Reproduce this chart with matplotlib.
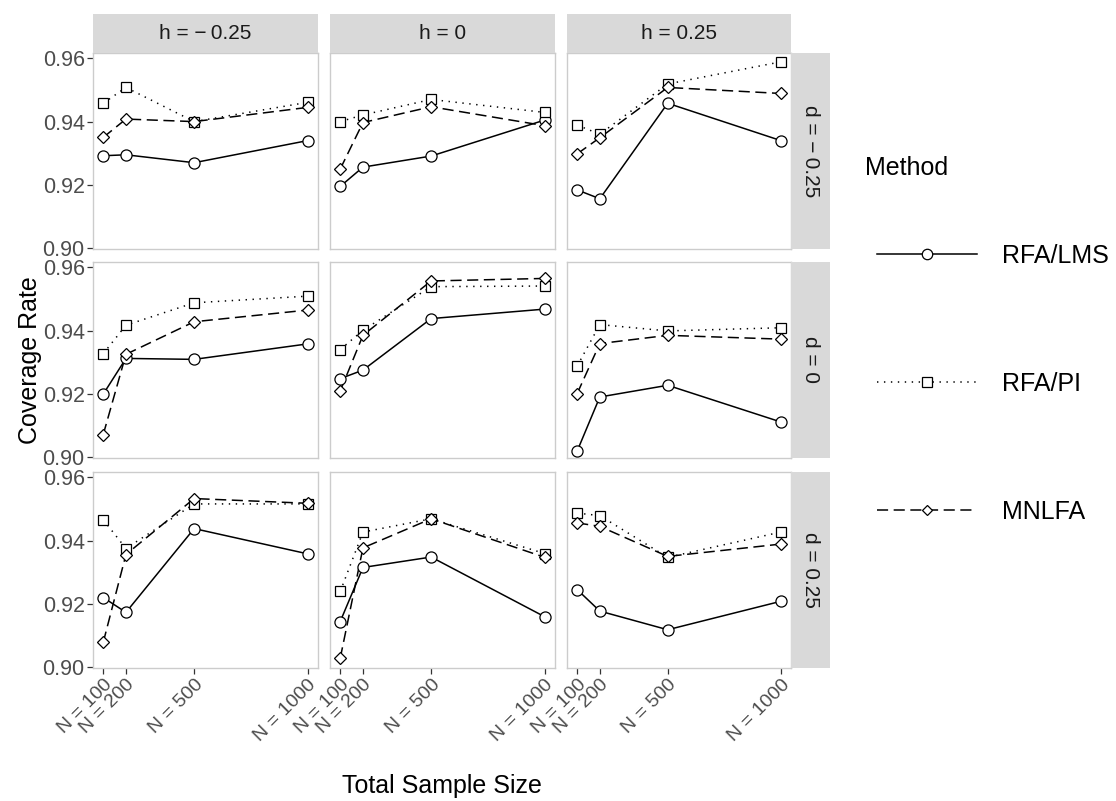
import matplotlib
matplotlib.use("Agg")
import matplotlib.pyplot as plt
from matplotlib.lines import Line2D

plt.rcParams["font.family"] = ["Liberation Sans", "DejaVu Sans"]
plt.rcParams["lines.scale_dashes"] = False

# --- data ---
sizes = [100, 200, 500, 1000]
size_labels = ["N = 100", "N = 200", "N = 500", "N = 1000"]
h_labels = ["h = \u2212\u20090.25", "h = 0", "h = 0.25"]
d_labels = ["d = \u2212\u20090.25", "d = 0", "d = 0.25"]
methods = ["RFA/LMS", "RFA/PI", "MNLFA"]

# rows = d, cols = h
lms = [
    [[0.9292, 0.9295, 0.9270, 0.9340], [0.9195, 0.9256, 0.9291, 0.9405], [0.9184, 0.9156, 0.9458, 0.9340]],
    [[0.9199, 0.9312, 0.9309, 0.9358], [0.9248, 0.9275, 0.9438, 0.9468], [0.9019, 0.9190, 0.9227, 0.9111]],
    [[0.9220, 0.9173, 0.9438, 0.9358], [0.9144, 0.9315, 0.9348, 0.9159], [0.9245, 0.9177, 0.9118, 0.9208]],
]
pi = [
    [[0.9458, 0.9508, 0.9400, 0.9461], [0.9400, 0.9421, 0.9470, 0.9429], [0.9389, 0.9360, 0.9519, 0.9589]],
    [[0.9327, 0.9417, 0.9488, 0.9509], [0.9340, 0.9401, 0.9539, 0.9541], [0.9288, 0.9419, 0.9399, 0.9409]],
    [[0.9466, 0.9375, 0.9516, 0.9516], [0.9239, 0.9427, 0.9469, 0.9359], [0.9487, 0.9479, 0.9347, 0.9427]],
]
mnlfa = [
    [[0.9350, 0.9408, 0.9400, 0.9445], [0.9250, 0.9397, 0.9447, 0.9387], [0.9298, 0.9349, 0.9508, 0.9489]],
    [[0.9071, 0.9325, 0.9428, 0.9465], [0.9209, 0.9385, 0.9557, 0.9565], [0.9201, 0.9359, 0.9385, 0.9373]],
    [[0.9078, 0.9356, 0.9533, 0.9518], [0.9028, 0.9377, 0.9469, 0.9347], [0.9456, 0.9445, 0.9350, 0.9389]],
]

styles = {
    "RFA/LMS": dict(ls="-", marker="o", ms=8),
    "RFA/PI": dict(ls=(0, (1, 4)), marker="s", ms=7),
    "MNLFA": dict(ls=(0, (8, 4)), marker="D", ms=6),
}
series = {"RFA/LMS": lms, "RFA/PI": pi, "MNLFA": mnlfa}

W, H = 1116, 801
fig = plt.figure(figsize=(W / 100, H / 100), dpi=100)

def box(x0, y0, x1, y1):
    return [x0 / W, 1 - y1 / H, (x1 - x0) / W, (y1 - y0) / H]

col_x = [(93, 318), (330, 555), (567, 791)]
row_y = [(53, 249), (262, 458), (472, 668)]
strip_col = "#D9D9D9"
tick_col = "#4D4D4D"

for i in range(3):
    for j in range(3):
        x0, x1 = col_x[j]
        y0, y1 = row_y[i]
        ax = fig.add_axes(box(x0, y0, x1, y1))
        for m in methods:
            ax.plot(sizes, series[m][i][j], color="black", lw=1.1, ls=styles[m]["ls"], zorder=2)
        for m in methods:
            ax.plot(sizes, series[m][i][j], ls="none", marker=styles[m]["marker"],
                    ms=styles[m]["ms"], mfc="white", mec="black", mew=0.9, zorder=3)
        ax.set_xlim(55, 1045)
        ax.set_ylim(0.8997, 0.9617)
        for s in ax.spines.values():
            s.set_color("#CCCCCC")
            s.set_linewidth(1.0)
        ax.set_yticks([0.90, 0.92, 0.94, 0.96])
        ax.set_xticks(sizes)
        ax.tick_params(length=4, width=0.9, color="#333333", labelcolor=tick_col, labelsize=15.5, pad=2)
        if j == 0:
            ax.set_yticklabels(["0.90", "0.92", "0.94", "0.96"])
        else:
            ax.tick_params(axis="y", left=False, labelleft=False)
        if i == 2:
            ax.set_xticklabels(size_labels, rotation=45, ha="right", va="top",
                               rotation_mode="anchor", fontsize=14)
        else:
            ax.tick_params(axis="x", bottom=False, labelbottom=False)

        if i == 0:
            sax = fig.add_axes(box(x0, 14, x1, 53))
            sax.set_facecolor(strip_col)
            sax.set_xticks([]); sax.set_yticks([])
            for s in sax.spines.values():
                s.set_visible(False)
            sax.text(0.5, 0.5, h_labels[j], ha="center", va="center", fontsize=15, color="#1A1A1A")
        if j == 2:
            sax = fig.add_axes(box(791, y0, 830, y1))
            sax.set_facecolor(strip_col)
            sax.set_xticks([]); sax.set_yticks([])
            for s in sax.spines.values():
                s.set_visible(False)
            sax.text(0.5, 0.5, d_labels[i], ha="center", va="center", rotation=270,
                     fontsize=15, color="#1A1A1A")

fig.text(30 / W, 1 - 360 / H, "Coverage Rate", rotation=90, ha="center", va="center", fontsize=18)
fig.text(442 / W, 1 - 786 / H, "Total Sample Size", ha="center", va="center", fontsize=18)

handles = [Line2D([], [], color="black", lw=1.1, ls=styles[m]["ls"], marker=styles[m]["marker"],
                  ms=styles[m]["ms"] - 0.5, mfc="white", mec="black", mew=0.9) for m in methods]
fig.text(865 / W, 1 - 168 / H, "Method", ha="left", va="center", fontsize=18)
fig.legend(handles, methods, loc="upper left", bbox_to_anchor=(877 / W, 1 - 244 / H),
           frameon=False, fontsize=18, handlelength=4, handletextpad=1.0, labelspacing=4.15,
           borderpad=0, borderaxespad=0, numpoints=1)

fig.savefig("out.png", dpi=100, facecolor="white")
